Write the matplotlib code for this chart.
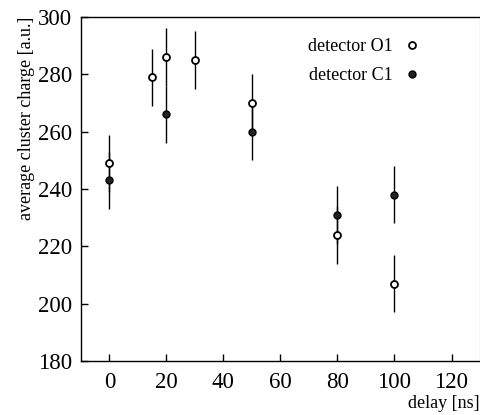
import numpy as np
import matplotlib
matplotlib.use('Agg')
import matplotlib.pyplot as plt

plt.rcParams['font.family'] = ['Liberation Serif', 'DejaVu Serif']

# detector O1 (open markers)
delay_o1 = [0, 15, 20, 30, 50, 80, 100]
charge_o1 = [249, 279, 286, 285, 270, 224, 207]
err_o1 = [10, 10, 10, 10, 10, 10, 10]

# detector C1 (filled markers)
delay_c1 = [0, 20, 50, 80, 100]
charge_c1 = [243, 266, 260, 231, 238]
err_c1 = [10, 10, 10, 10, 10]

fig = plt.figure(figsize=(4.81, 4.15), dpi=100)
ax = fig.add_axes([0.168, 0.130, 0.830, 0.829])

ax.errorbar(delay_o1, charge_o1, yerr=err_o1, fmt='none', ecolor='black', elinewidth=1.0, capsize=0)
ax.errorbar(delay_c1, charge_c1, yerr=err_c1, fmt='none', ecolor='black', elinewidth=1.0, capsize=0)
ax.plot(delay_o1, charge_o1, 'o', ms=5, mfc='white', mec='black', mew=1.3, label='detector O1')
ax.plot(delay_c1, charge_c1, 'o', ms=5, mfc='#222222', mec='black', label='detector C1')

ax.set_xlim(-10, 130)
ax.set_ylim(180, 300)
ax.set_xticks(np.arange(0, 121, 20))
ax.set_yticks(np.arange(180, 301, 20))
ax.tick_params(direction='in', length=5, width=1, labelsize=16.5, pad=8)
ax.tick_params(axis='y', pad=6)

ax.spines['right'].set_color('#999999')
ax.spines['right'].set_linewidth(0.8)
for s in ['left', 'bottom', 'top']:
    ax.spines[s].set_linewidth(1.0)

ax.set_xlabel('delay [ns]', fontsize=13, loc='right', labelpad=1)
ax.set_ylabel('average cluster charge [a.u.]', fontsize=13, loc='top', labelpad=2)

ax.legend(loc='upper right', bbox_to_anchor=(0.885, 0.985), frameon=False, markerfirst=False,
          handlelength=0.6, handletextpad=0.8, fontsize=13, labelspacing=0.65, numpoints=1)

fig.savefig('out.png', dpi=100)
